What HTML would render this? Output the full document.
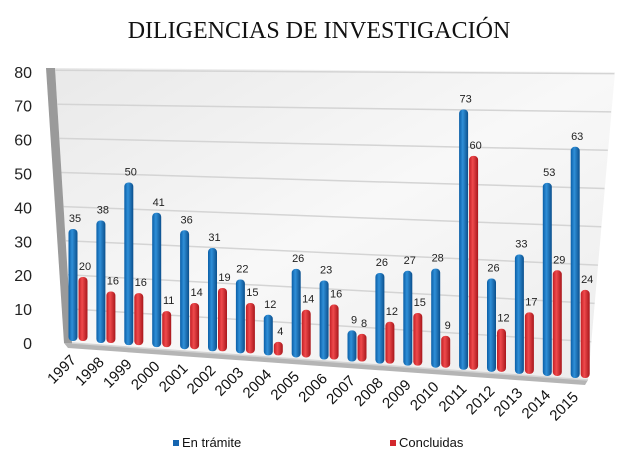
<!DOCTYPE html>
<html><head><meta charset="utf-8"><style>
body{margin:0;background:#fff}
svg{display:block;font-family:"Liberation Sans",Arial,sans-serif}
</style></head><body>
<svg id="c" width="638" height="473" viewBox="0 0 638 473">
<defs>
<linearGradient id="bg" x1="0" y1="0" x2="1" y2="1"><stop offset="0" stop-color="#e9e9e9"/><stop offset="0.5" stop-color="#f8f8f8"/><stop offset="1" stop-color="#ececec"/></linearGradient>
<linearGradient id="gb" x1="0" x2="1"><stop offset="0" stop-color="#0a5ea6"/><stop offset="0.4" stop-color="#2f8fd8"/><stop offset="1" stop-color="#0b4f8c"/></linearGradient>
<linearGradient id="gr" x1="0" x2="1"><stop offset="0" stop-color="#c31e24"/><stop offset="0.4" stop-color="#ef4a4c"/><stop offset="1" stop-color="#a8161b"/></linearGradient>
</defs>
<text x="319" y="38" text-anchor="middle" font-family="Liberation Serif,serif" font-size="24" fill="#111">DILIGENCIAS DE INVESTIGACIÓN</text>
<polygon points="55,68 615,72 588,380 72,343" fill="url(#bg)"/>
<polygon points="46,68 55,68 72,343 64,343" fill="#9a9a9a"/>
<polygon points="64,343 72,343 588,380 585,385 68,348" fill="#b5b5b5"/>
<g id="grid"></g><g id="yt"></g><g id="bars"></g><g id="xl"></g>
<rect x="173" y="440" width="6" height="6" fill="#1565b0"/>
<text x="182" y="447" font-size="13" fill="#111">En trámite</text>
<rect x="390" y="440" width="6" height="6" fill="#d3282d"/>
<text x="399" y="447" font-size="13" fill="#111">Concluidas</text>
</svg>
<script>
const years=["1997","1998","1999","2000","2001","2002","2003","2004","2005","2006","2007","2008","2009","2010","2011","2012","2013","2014","2015"];
const enTramite=[35,38,50,41,36,31,22,12,26,23,9,26,27,28,73,26,33,53,63];
const concluidas=[20,16,16,11,14,19,15,4,14,16,8,12,15,9,60,12,17,29,24];
const yTicks=[0,10,20,30,40,50,60,70,80];
const NS="http://www.w3.org/2000/svg";
function mk(t,a,p){const e=document.createElementNS(NS,t);for(const k in a)e.setAttribute(k,a[k]);p.appendChild(e);return e;}
const n=years.length;
function bx(i){return 73+i*27.9;}
function base(i){return 341+i*(37/(n-1));}
function sc(i){return 3.2+i*(0.47/(n-1));}
function yv(i,v){return base(i)-v*sc(i);}
const g=document.getElementById('grid'),yt=document.getElementById('yt'),bars=document.getElementById('bars'),xl=document.getElementById('xl');
yTicks.forEach(v=>{
 const l=mk('line',{x1:72-v*0.21,y1:343-v*3.41,x2:588+v*0.33,y2:380-v*3.83,stroke:'#d4d4d4','stroke-width':1.5},g);
 
 
 const t=mk('text',{x:32,y:349-v*3.39,'text-anchor':'end','font-size':16,fill:'#222'},yt);
 t.textContent=v;
 
 
});
function bar(x,i,v,fill,name){
 const y=yv(i,v),b=base(i);
 const r=mk('rect',{x:x-4.5,y:y,width:9,height:b-y,rx:4,fill:fill},bars);
 
 
 const t=mk('text',{x:x+2,y:y-7,'text-anchor':'middle','font-size':11,fill:'#222'},bars);
 t.textContent=v;
 
 
}
years.forEach((yr,i)=>{
 const x=bx(i);
 bar(x,i,enTramite[i],'url(#gb)','bar-en-tramite-'+yr);
 bar(x+10,i,concluidas[i],'url(#gr)','bar-concluidas-'+yr);
 const tx=x+4,ty=base(i)+20;
 const t=mk('text',{x:tx,y:ty,'text-anchor':'end','font-size':15,fill:'#111',transform:`rotate(-45 ${tx} ${ty})`},xl);
 t.textContent=yr;
 
 
});
</script>
</body></html>
